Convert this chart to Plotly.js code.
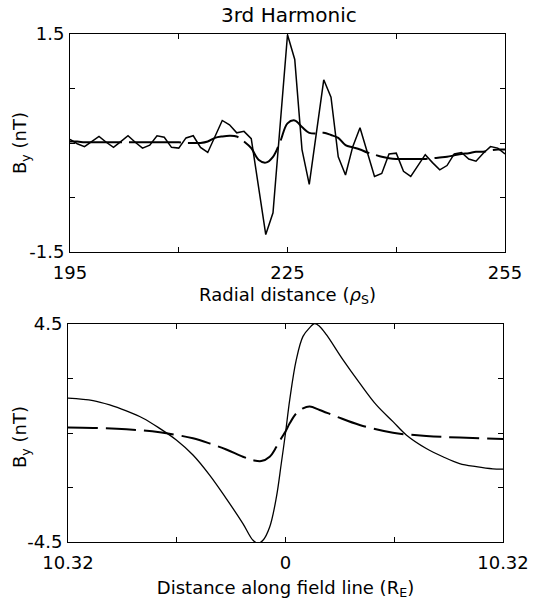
<!DOCTYPE html>
<html>
<head>
<meta charset="utf-8">
<script src="https://cdn.plot.ly/plotly-3.0.1.min.js"></script>
<style>html,body{margin:0;padding:0;background:#fff;}#plot{width:533px;height:605px;}</style>
</head>
<body>
<div id="plot"></div>
<script>
// Top panel: radial distance (rho_S)
const radialX = [195,196,197,198,199,200,201,202,203,204,205,206,207,208,209,210,211,212,213,214,215,216,217,218,219,220,221,222,223,224,225,226,227,228,229,230,231,232,233,234,235,236,237,238,239,240,241,242,243,244,245,246,247,248,249,250,251,252,253,254,255];
const radialSolid = [0.05,-0.01,-0.05,0.02,0.09,0.01,-0.06,0.02,0.10,0.01,-0.07,-0.03,0.10,0.08,-0.06,-0.07,0.07,0.10,-0.06,-0.13,0.09,0.31,0.25,0.14,0.16,0.06,-0.60,-1.26,-0.96,0.26,1.49,1.15,-0.09,-0.57,0.18,0.87,0.63,-0.19,-0.44,-0.05,0.21,-0.12,-0.46,-0.42,-0.15,-0.14,-0.39,-0.46,-0.31,-0.16,-0.27,-0.37,-0.31,-0.15,-0.13,-0.22,-0.25,-0.14,-0.05,-0.07,-0.15];
const radialDashed = [0.02,0.02,0.01,0.01,0.01,0.01,0.01,0.01,0.01,0.01,0.01,0.01,0.01,0.01,0.01,0.01,0.00,0.00,0.00,0.02,0.07,0.09,0.10,0.09,0.02,-0.07,-0.23,-0.27,-0.19,0.02,0.27,0.31,0.22,0.14,0.13,0.14,0.11,0.07,-0.03,-0.06,-0.09,-0.13,-0.16,-0.19,-0.21,-0.22,-0.22,-0.22,-0.22,-0.22,-0.21,-0.20,-0.19,-0.17,-0.15,-0.14,-0.12,-0.12,-0.10,-0.09,-0.09];

// Bottom panel: distance along field line (R_E)
const fieldX = [-10.32,-9.13,-8.34,-7.55,-6.76,-5.97,-5.18,-4.39,-3.60,-2.81,-2.02,-1.54,-1.30,-1.07,-0.75,-0.43,-0.20,0,0.20,0.51,0.83,1.15,1.38,1.62,1.94,2.73,3.52,4.31,5.10,5.73,6.68,7.47,8.26,9.05,9.84,10.32];
const fieldSolid = [1.44,1.34,1.16,0.91,0.61,0.19,-0.29,-0.91,-1.74,-2.71,-3.74,-4.43,-4.55,-4.43,-3.88,-2.64,-1.26,0,1.37,3.02,3.99,4.35,4.52,4.40,4.06,3.02,2.06,1.16,0.47,-0.08,-0.64,-0.98,-1.26,-1.39,-1.48,-1.49];
const fieldDashX = [-10.32,-9.13,-7.55,-5.97,-4.39,-3.60,-2.81,-2.02,-1.54,-1.15,-0.75,-0.43,-0.20,0,0.20,0.51,0.83,1.15,1.62,2.41,3.52,5.10,6.68,8.26,10.32];
const fieldDashed = [0.23,0.21,0.15,0.03,-0.22,-0.43,-0.68,-0.98,-1.12,-1.16,-0.98,-0.57,-0.22,0.06,0.40,0.81,1.02,1.09,0.95,0.68,0.33,0.01,-0.12,-0.19,-0.25];

// Labelled ticks and unlabelled (minor) ticks
const radialTicks = [195,225,255];
const radialTickText = ['195','225','255'];
const radialMinor = [210,240];
const topYTicks = [-1.5,1.5];
const topYTickText = ['-1.5','1.5'];
const topYMinor = [-0.75,0,0.75];
const fieldTicks = [-10.32,0,10.32];
const fieldTickText = ['10.32','0','10.32'];
const fieldMinor = [-5.16,5.16];
const botYTicks = [-4.5,4.5];
const botYTickText = ['-4.5','4.5'];
const botYMinor = [-2.25,0,2.25];

const fam = 'DejaVu Sans, Verdana, sans-serif';
const tickFont = {family:fam, size:18, color:'#000'};
const titleFont = {family:fam, size:18, color:'#000'};

const traces = [
  {x: radialX, y: radialSolid, mode:'lines', line:{color:'#000', width:1.5}, xaxis:'x', yaxis:'y', hoverinfo:'skip'},
  {x: radialX, y: radialDashed, mode:'lines', line:{color:'#000', width:2, dash:'52px,7px', shape:'spline'}, xaxis:'x', yaxis:'y', hoverinfo:'skip'},
  {x: fieldX, y: fieldSolid, mode:'lines', line:{color:'#000', width:1.3, shape:'spline'}, xaxis:'x2', yaxis:'y2', hoverinfo:'skip'},
  {x: fieldDashX, y: fieldDashed, mode:'lines', line:{color:'#000', width:2, dash:'30px,8px', shape:'spline'}, xaxis:'x2', yaxis:'y2', hoverinfo:'skip'}
];

function minorTicks(vals) {
  return {tickmode:'array', tickvals:vals, ticks:'inside', ticklen:5, tickcolor:'#000', tickwidth:1, showgrid:false};
}

const axCommon = {showgrid:false, zeroline:false, showline:true, linecolor:'#000', linewidth:1, mirror:'ticks', ticks:'inside', ticklen:5, tickcolor:'#000', tickwidth:1, tickfont:tickFont, tickmode:'array', fixedrange:true};

const layout = {
  width:533, height:605,
  margin:{l:0, r:0, t:0, b:0},
  paper_bgcolor:'#fff', plot_bgcolor:'#fff',
  showlegend:false,
  font: tickFont,
  xaxis: Object.assign({}, axCommon, {domain:[70/533, 505/533], range:[195,255], tickvals:radialTicks, ticktext:radialTickText, minor:minorTicks(radialMinor), anchor:'y', ticklabelstandoff:4,
    title:{text:'Radial distance (<i>ρ</i><sub>S</sub>)', font:titleFont, standoff:6}}),
  yaxis: Object.assign({}, axCommon, {domain:[(605-252)/605, (605-34)/605], range:[-1.5,1.5], tickvals:topYTicks, ticktext:topYTickText, minor:minorTicks(topYMinor), anchor:'x', ticklabelstandoff:1}),
  xaxis2: Object.assign({}, axCommon, {domain:[68/533, 503/533], range:[-10.32,10.32], tickvals:fieldTicks, ticktext:fieldTickText, minor:minorTicks(fieldMinor), anchor:'y2', ticklabelstandoff:4,
    title:{text:'Distance along field line (R<sub>E</sub>)', font:titleFont, standoff:9}}),
  yaxis2: Object.assign({}, axCommon, {domain:[(605-542)/605, (605-324)/605], range:[-4.5,4.5], tickvals:botYTicks, ticktext:botYTickText, minor:minorTicks(botYMinor), anchor:'x2', ticklabelstandoff:1}),
  annotations:[
    {text:'3rd Harmonic', xref:'paper', yref:'paper', x:289/533, y:(605-15)/605, xanchor:'center', yanchor:'middle', showarrow:false, font:{family:fam, size:20, color:'#000'}},
    {text:'B<sub>y</sub> (nT)', xref:'paper', yref:'paper', x:21/533, y:(605-143)/605, xanchor:'center', yanchor:'middle', textangle:-90, showarrow:false, font:titleFont},
    {text:'B<sub>y</sub> (nT)', xref:'paper', yref:'paper', x:21/533, y:(605-437)/605, xanchor:'center', yanchor:'middle', textangle:-90, showarrow:false, font:titleFont}
  ]
};

Plotly.newPlot('plot', traces, layout, {staticPlot:true, displayModeBar:false});
</script>
</body>
</html>
